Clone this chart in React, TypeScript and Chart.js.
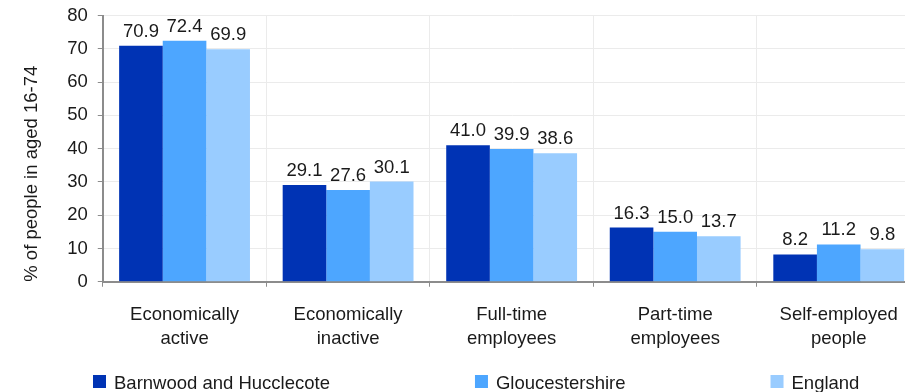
import React, { useEffect, useRef } from "react";
import { Chart, registerables } from "chart.js";

Chart.register(...registerables);

const categories: string[][] = [
  ["Economically", "active"],
  ["Economically", "inactive"],
  ["Full-time", "employees"],
  ["Part-time", "employees"],
  ["Self-employed", "people"],
];
const seriesNames = ["Barnwood and Hucclecote", "Gloucestershire", "England"];
const barnwood = [70.9, 29.1, 41.0, 16.3, 8.2];
const gloucestershire = [72.4, 27.6, 39.9, 15.0, 11.2];
const england = [69.9, 30.1, 38.6, 13.7, 9.8];
const seriesColors = ["#0033B4", "#4DA6FF", "#99CCFF"];
const yMin = 0;
const yMax = 80;
const yStep = 10;
const yTitle = "% of people in aged 16-74";

const FONT = "'Liberation Sans', Arial, Helvetica, sans-serif";
const FONT_SIZE = 18.5;
const TEXT = "#1a1a1a";
const AXIS = "#8c8c8c";
const GRID = "#ebebeb";

const valueLabels = {
  id: "valueLabels",
  afterDatasetsDraw(chart: any) {
    const ctx = chart.ctx;
    ctx.save();
    ctx.font = `${FONT_SIZE}px ${FONT}`;
    ctx.fillStyle = TEXT;
    ctx.textAlign = "center";
    ctx.textBaseline = "alphabetic";
    chart.data.datasets.forEach((ds: any, i: number) => {
      const meta = chart.getDatasetMeta(i);
      meta.data.forEach((bar: any, j: number) => {
        const v = ds.data[j] as number;
        ctx.fillText(v.toFixed(1), bar.x, bar.y - 9);
      });
    });
    ctx.restore();
  },
};

const customLegend = {
  id: "customLegend",
  afterDraw(chart: any) {
    const ctx = chart.ctx;
    ctx.save();
    ctx.font = `${FONT_SIZE}px ${FONT}`;
    ctx.textBaseline = "alphabetic";
    ctx.textAlign = "left";
    let x = 93;
    const top = 375;
    chart.data.datasets.forEach((ds: any) => {
      ctx.fillStyle = ds.backgroundColor;
      ctx.fillRect(x, top, 13, 13);
      ctx.fillStyle = TEXT;
      ctx.fillText(ds.label, x + 21, top + 13.5);
      x += 21 + ctx.measureText(ds.label).width + 145;
    });
    ctx.restore();
  },
};

export default function App() {
  const ref = useRef<HTMLCanvasElement | null>(null);

  useEffect(() => {
    if (!ref.current) return;
    const values = [barnwood, gloucestershire, england];
    const chart = new Chart(ref.current, {
      type: "bar",
      data: {
        labels: categories,
        datasets: seriesNames.map((name, i) => ({
          label: name,
          data: values[i],
          backgroundColor: seriesColors[i],
          borderWidth: 0,
          categoryPercentage: 0.8,
          barPercentage: 1.0,
        })),
      },
      options: {
        animation: false,
        responsive: false,
        maintainAspectRatio: false,
        layout: { padding: { top: 0, right: 1.5, bottom: 25, left: 0 } },
        font: { family: FONT, size: FONT_SIZE },
        plugins: {
          legend: { display: false },
          tooltip: { enabled: false },
          title: { display: false },
        },
        scales: {
          x: {
            offset: true,
            grid: {
              offset: true,
              color: GRID,
              tickColor: AXIS,
              tickLength: 5,
              lineWidth: 1,
            },
            border: { color: AXIS, width: 2 },
            ticks: {
              color: TEXT,
              font: { family: FONT, size: FONT_SIZE, lineHeight: 1.25 },
              padding: 17,
              maxRotation: 0,
              autoSkip: false,
            },
          },
          y: {
            min: yMin,
            max: yMax,
            grid: {
              color: GRID,
              tickColor: AXIS,
              tickLength: 5,
              lineWidth: 1,
            },
            border: { color: AXIS, width: 2 },
            ticks: {
              stepSize: yStep,
              color: TEXT,
              font: { family: FONT, size: FONT_SIZE, lineHeight: 0.6 },
              padding: 10,
            },
            title: {
              display: true,
              text: yTitle,
              align: "start",
              color: TEXT,
              font: { family: FONT, size: FONT_SIZE },
              padding: { top: 21, bottom: 14 },
            },
          },
        },
      },
      plugins: [valueLabels, customLegend],
    });
    return () => chart.destroy();
  }, []);

  return (
    <div
      style={{
        position: "fixed",
        left: 0,
        top: 0,
        width: 905,
        height: 392,
        overflow: "hidden",
        background: "#ffffff",
      }}
    >
      <canvas ref={ref} width={922} height={392} style={{ width: 922, height: 392, display: "block" }} />
    </div>
  );
}
